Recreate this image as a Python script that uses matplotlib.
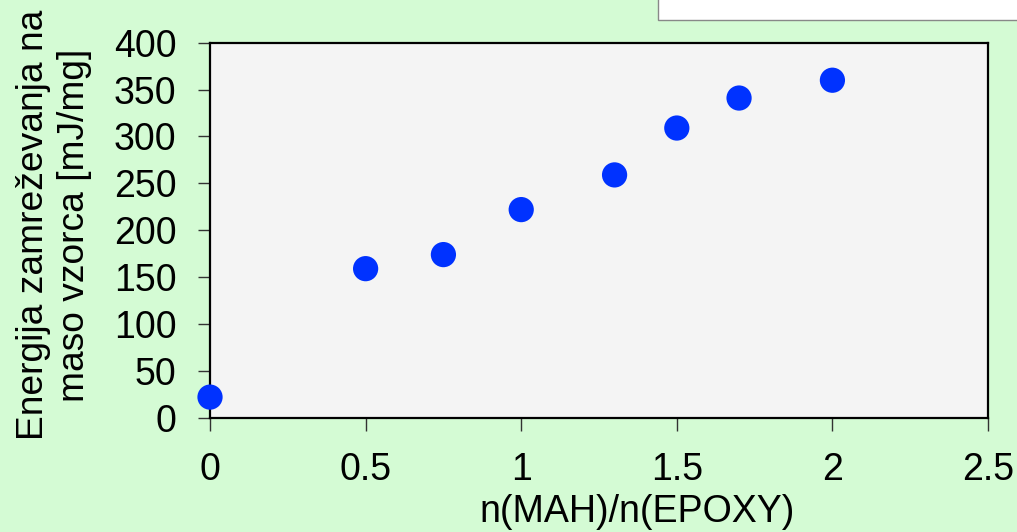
import matplotlib as mpl
mpl.use('Agg')
import matplotlib.pyplot as plt
from matplotlib.patches import Rectangle

ratio = [0, 0.5, 0.75, 1.0, 1.3, 1.5, 1.7, 2.0]
energy = [22, 159, 174, 222, 259, 309, 341, 360]

x_ticks = [0, 0.5, 1, 1.5, 2, 2.5]
x_tick_labels = ['0', '0.5', '1', '1.5', '2', '2.5']
y_ticks = [0, 50, 100, 150, 200, 250, 300, 350, 400]

plt.rcParams['font.family'] = ['Liberation Sans', 'DejaVu Sans']

fig = plt.figure(figsize=(10.17, 5.32), dpi=100, facecolor='#d4fbd4')
ax = fig.add_axes([0.2065, 0.2148, 0.765, 0.7049])
ax.set_facecolor('#f4f4f4')

ax.scatter(ratio, energy, s=330, color='#0032ff', edgecolors='none',
           zorder=5, clip_on=False)

ax.set_xlim(0, 2.5)
ax.set_ylim(0, 400)
ax.set_xticks(x_ticks)
ax.set_xticklabels(x_tick_labels)
ax.set_yticks(y_ticks)
ax.tick_params(axis='both', labelsize=27, direction='out', length=9,
               width=1, color='#333333')
ax.tick_params(axis='x', pad=16)
ax.tick_params(axis='y', pad=15)
for sp in ax.spines.values():
    sp.set_linewidth(1.6)
    sp.set_color('black')

# axis titles placed by hand, x title sits a bit right of centre
fig.text(637 / 1017, 0.019, 'n(MAH)/n(EPOXY)', ha='center', va='baseline',
         fontsize=27)
fig.text(0.053, 0.577, 'Energija zamreževanja na\nmaso vzorca [mJ/mg]',
         rotation=90, ha='center', va='center', fontsize=26.7,
         multialignment='center', linespacing=1.22)

# white box peeking in at the top right
fig.patches.append(Rectangle((658 / 1017, 1 - 20 / 532), 1, 1,
                             transform=fig.transFigure, facecolor='white',
                             edgecolor='#888888', linewidth=1))

fig.savefig('out.png', dpi=100, facecolor=fig.get_facecolor())
